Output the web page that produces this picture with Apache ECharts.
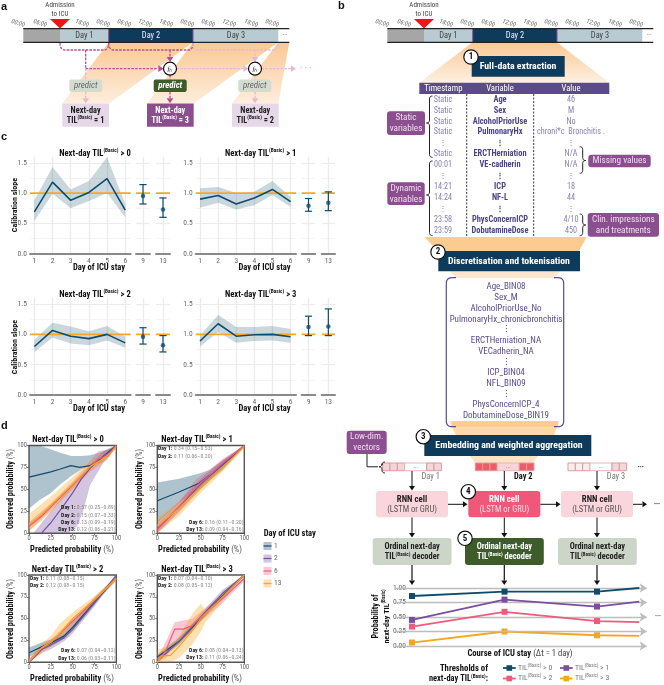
<!DOCTYPE html>
<html><head><meta charset="utf-8">
<style>html,body{margin:0;padding:0;background:#fff}#c{width:664px;height:685px}</style>
<script src="https://cdn.jsdelivr.net/npm/echarts@6/dist/echarts.min.js"></script>
</head><body><div id="c"></div>
<script>
/* ---------- DATA ---------- */
const slopeDays=[1,2,3,4,5,6];
const slope0=[0.69,1.18,0.88,1.01,1.24,0.72], slope0Up=[0.88,1.43,1.06,1.2,1.59,0.82], slope0Lo=[0.54,0.99,0.75,0.87,1.0,0.6];
const slope1=[0.9,0.96,0.82,0.92,1.06,0.86], slope1Up=[1.08,1.1,1.0,1.02,1.2,0.94], slope1Lo=[0.76,0.84,0.73,0.8,0.97,0.77];
const slope2=[0.8,1.065,0.97,0.93,1.0,0.86], slope2Up=[0.91,1.19,1.13,1.05,1.14,0.96], slope2Lo=[0.71,0.95,0.85,0.82,0.9,0.78];
const slope3=[0.89,1.175,0.97,0.995,1.0,0.96], slope3Up=[0.98,1.32,1.12,1.12,1.14,1.09], slope3Lo=[0.8,1.04,0.86,0.89,0.9,0.86];
const late0=[[9,0.95,0.82,1.14],[13,0.73,0.6,0.92]];
const late1=[[9,0.79,0.7,0.91],[13,0.84,0.71,1.02]];
const late2=[[9,0.96,0.84,1.11],[13,0.82,0.71,0.98]];
const late3=[[9,1.12,0.98,1.3],[13,1.13,0.98,1.42]];

const d0Day1=[[0,64],[25,70],[35,73],[48,77],[58,75],[70,77],[81,84],[89,91],[100,100]];
const d0Day1Band=[[0,28,100],[12,38,100],[24,45,96],[35,55,92],[48,65,88],[60,73,88],[70,77,89],[81,80,92],[90,88,96],[100,98,100]];
const d0Day2=[[14,0],[25,12],[40,32],[50,46],[60,62],[70,74],[81,85],[93,93],[100,100]];
const d0Day2Band=[[5,0,0],[25,0,25],[45,0,50],[55,8,60],[62,25,68],[70,55,78],[85,80,93],[100,98,100]];
const d0Day6=[[0,8],[15,20],[25,30],[50,55],[70,76],[80,85],[90,88],[100,100]];
const d0Day6Band=[[0,3,13],[25,26,34],[50,51,59],[70,71,82],[80,78,94],[90,84,95],[100,99,100]];
const d0Day13=[[0,10],[15,22],[25,32],[50,56],[70,76],[85,85],[95,93],[100,99]];
const d0Day13Band=[[0,2,22],[25,24,42],[50,50,64],[70,70,82],[85,80,90],[100,97,100]];

const d1Day1=[[0,37],[25,47],[48,57],[60,66],[75,78],[100,100]];
const d1Day1Band=[[0,12,58],[25,35,62],[48,50,68],[60,60,72],[75,72,83],[100,99,100]];
const d1Day2=[[0,5],[25,30],[50,56],[75,78],[100,100]];
const d1Day2Band=[[0,0,14],[25,24,36],[50,50,62],[75,74,83],[100,99,100]];
const d1Day6=[[0,4],[25,30],[45,54],[60,66],[75,80],[100,100]];
const d1Day6Band=[[0,0,10],[25,25,36],[45,47,62],[60,60,72],[75,76,85],[100,99,100]];
const d1Day13=[[0,9],[25,28],[50,52],[75,74],[100,99]];
const d1Day13Band=[[0,0,18],[25,20,36],[50,46,58],[75,70,79],[100,97,100]];

const d2Day1=[[0,11],[15,18],[25,22],[40,30],[50,40],[75,69],[100,97]];
const d2Day1Band=[[0,6,17],[15,14,23],[25,18,26],[40,27,35],[50,36,46],[75,66,74],[100,95,99]];
const d2Day2=[[0,0],[15,15],[25,20],[40,28],[50,38],[75,68],[100,100]];
const d2Day2Band=[[0,0,3],[15,11,18],[25,15,24],[40,24,32],[50,33,42],[75,64,71],[100,99,100]];
const d2Day6=[[0,1],[15,17],[25,23],[40,37],[50,47],[75,71],[100,96]];
const d2Day6Band=[[0,0,4],[15,14,20],[25,20,26],[40,34,40],[50,44,50],[75,68,74],[100,94,98]];
const d2Day13=[[0,1],[15,17],[25,23],[35,33],[50,50],[75,72],[100,96]];
const d2Day13Band=[[0,0,4],[15,10,22],[25,18,30],[35,26,44],[50,42,57],[75,68,76],[100,93,98]];

const d3Day1=[[0,6],[25,24],[50,50],[75,76],[100,100]];
const d3Day1Band=[[0,3,9],[25,21,28],[50,47,53],[75,73,79],[100,99,100]];
const d3Day2=[[0,1],[25,24],[50,52],[75,79],[100,100]];
const d3Day2Band=[[0,0,4],[25,20,28],[50,48,56],[75,75,83],[100,99,100]];
const d3Day6=[[0,0],[10,14],[20,38],[30,38],[40,42],[50,52],[75,73],[100,96]];
const d3Day6Band=[[0,0,5],[10,5,24],[20,25,46],[30,28,48],[40,34,50],[50,47,58],[75,68,78],[100,93,99]];
const d3Day13=[[0,0],[5,7],[15,8],[25,18],[40,36],[50,50],[75,75],[100,100]];
const d3Day13Band=[[0,0,14],[15,0,20],[25,5,30],[40,20,55],[50,35,67],[55,45,60],[75,70,79],[100,99,100]];

const calibDayNames=['1','2','6','13'];
const probX=[1,2,3,3.457];
const probGt0=[0.862,0.937,0.937,1.0], probGt1=[0.45,0.80,0.68,0.765], probGt2=[0.335,0.59,0.43,0.41], probGt3=[0.06,0.25,0.185,0.175];
const probLevels=[0,0.25,0.5,0.75,1];

const tableTime=['Static','Static','Static','Static','⋮','Static','00:01','⋮','14:21','14:24','⋮','23:58','23:59'];
const tableVar=['Age','Sex','AlcoholPriorUse','PulmonaryHx','⋮','ERCTHerniation','VE-cadherin','⋮','ICP','NF-L','⋮','PhysConcernICP','DobutamineDose'];
const tableVal=['46','M','No','chroni*c  Bronchitis .','⋮','N/A','N/A','⋮','18','44','⋮','4/10','450'];
const tokens=['Age_BIN08','Sex_M','AlcoholPriorUse_No','PulmonaryHx_chronicbronchitis','⋮','ERCTHerniation_NA','VECadherin_NA','⋮','ICP_BIN04','NFL_BIN09','⋮','PhysConcernICP_4','DobutamineDose_BIN19'];
const clockTicks=['00:00','06:00','18:00','00:00','06:00','12:00','18:00','00:00','06:00','12:00','18:00','00:00'];

const annot0=['0.57 (0.25–0.89)','0.15 (0.07–0.33)','0.13 (0.09–0.19)','0.12 (0.06–0.21)'];
const annot1=['0.34 (0.15–0.53)','0.11 (0.06–0.20)','0.16 (0.11–0.20)','0.09 (0.04–0.16)'];
const annot2=['0.11 (0.08–0.15)','0.12 (0.08–0.15)','0.07 (0.04–0.12)','0.06 (0.03–0.11)'];
const annot3=['0.07 (0.04–0.10)','0.08 (0.05–0.12)','0.08 (0.04–0.13)','0.11 (0.06–0.24)'];

/* ---------- STYLE ---------- */
const FONT='"Liberation Sans Narrow","Roboto Condensed",Roboto,sans-serif';
const NAVY='#0f4c6b',PURPLE='#7a4f9e',PINK='#ee5b7d',ORANGE='#f9a51a',DEEP='#0e3b5c',PLUM='#8b4f8f',IND='#5b4b8a',GREEN='#3e5c2a',SAGE='#ccd5c8';
const dayCol=[NAVY,PURPLE,PINK,ORANGE];
const els=[];

function T(x,y,text,o={}){
  const size=o.size||7;
  els.push({type:'text',x,y,rotation:o.rot||0,z:o.z||20,style:{text,fontFamily:o.font||FONT,fontSize:size,fontWeight:o.weight||'normal',fontStyle:o.italic?'italic':'normal',fill:o.color||'#333',align:o.align||'center',verticalAlign:'middle',lineHeight:o.lh||size*1.2,rich:o.rich}});
}
function tilRich(pre,post,o={}){
  const size=o.size||8,w=o.weight||'bold',c=o.color||'#111';
  return {text:'{a|'+pre+'}{s|(Basic)}{a|'+post+'}',rich:{
    a:{fontFamily:FONT,fontSize:size,fontWeight:w,fill:c,lineHeight:size*1.3},
    s:{fontFamily:FONT,fontSize:size*0.62,fontWeight:w,fill:c,verticalAlign:'top',lineHeight:size*1.3}}};
}
function TIL(x,y,pre,post,o={}){const r=tilRich(pre,post,o);T(x,y,r.text,{rich:r.rich,align:o.align,rot:o.rot,z:o.z,size:o.size});}
function rect(x,y,w,h,fill,r,stroke,z){els.push({type:'rect',z:z||10,shape:{x,y,width:w,height:h,r:r||0},style:{fill,stroke:stroke||null,lineWidth:stroke?1:0}});}
function poly(pts,fill,z){els.push({type:'polygon',z:z||5,shape:{points:pts},style:{fill}});}
function line(pts,color,w,dash,z){els.push({type:'polyline',z:z||12,shape:{points:pts},style:{stroke:color,lineWidth:w||1,fill:null,lineDash:dash||null}});}
function arrow(x1,y1,x2,y2,color,w,dash,h){
  h=h||3.4;const a=Math.atan2(y2-y1,x2-x1),bx=x2-h*1.5*Math.cos(a),by=y2-h*1.5*Math.sin(a);
  line([[x1,y1],[bx,by]],color,w,dash,13);
  poly([[x2,y2],[bx+h*Math.sin(a),by-h*Math.cos(a)],[bx-h*Math.sin(a),by+h*Math.cos(a)]],color,13);
}
function circ(x,y,r,label,o={}){
  els.push({type:'circle',z:15,shape:{cx:x,cy:y,r},style:{fill:'#fff',stroke:'#111',lineWidth:o.lw||1.2}});
  T(x,y,label,{size:o.size||9,weight:o.italic?'normal':'bold',italic:o.italic,color:'#111',z:16,font:o.font});
}
// rounded corner curves are sampled into polylines: the graphic component has no free path type
function curve(segs,color,w,dash){ // segs: start point, then [x,y] (line) or [cx,cy,x,y] (quadratic)
  const pts=[segs[0].slice()];
  segs.slice(1).forEach(s=>{
    if(s.length===2){pts.push(s.slice());return;}
    const p=pts[pts.length-1];
    for(let i=1;i<=6;i++){const t=i/6,u=1-t;pts.push([u*u*p[0]+2*u*t*s[0]+t*t*s[2],u*u*p[1]+2*u*t*s[1]+t*t*s[3]]);}
  });
  line(pts,color,w,dash);
}
function braceL(x,y1,y2,ym){const r=3;curve([[x+r,y1],[x,y1,x,y1+r],[x,ym-r],[x,ym,x-r,ym],[x,ym,x,ym+r],[x,y2-r],[x,y2,x+r,y2]],'#222',1);}
function braceR(x,y1,y2,ym){const r=3;curve([[x-r,y1],[x,y1,x,y1+r],[x,ym-r],[x,ym,x+r,ym],[x,ym,x,ym+r],[x,y2-r],[x,y2,x-r,y2]],'#222',1);}
const grad=(a,b)=>new echarts.graphic.LinearGradient(0,0,0,1,[{offset:0,color:a},{offset:1,color:b}]);

/* ---------- CHART ASSEMBLY ---------- */
const grids=[],xAxes=[],yAxes=[],series=[];
function addGrid(l,t,r,b,xa,ya,extra){
  const i=grids.length;
  grids.push(Object.assign({left:l,top:t,width:r-l,height:b-t,containLabel:false},extra||{}));
  xAxes.push(Object.assign({type:'value',gridIndex:i},xa));
  yAxes.push(Object.assign({type:'value',gridIndex:i},ya));
  return i;
}
function bandSeries(i,pts,fill,z){ // pts: [x,lo,hi]
  series.push({type:'custom',xAxisIndex:i,yAxisIndex:i,z,clip:true,silent:true,data:[pts[0]],encode:{x:0,y:1},
    renderItem:(p,api)=>{
      const top=pts.map(q=>api.coord([q[0],q[2]])),bot=pts.slice().reverse().map(q=>api.coord([q[0],q[1]]));
      return {type:'polygon',shape:{points:top.concat(bot)},style:{fill}};
    }});
}
function lineSeries(i,data,color,w,z){
  series.push({type:'line',xAxisIndex:i,yAxisIndex:i,data,z,silent:true,showSymbol:false,symbol:'none',clip:true,lineStyle:{color,width:w},animation:false});
}
const cLabel={color:'#666',fontSize:7.5,fontFamily:FONT,margin:3};
const gridLine={show:true,lineStyle:{color:'#ececec',width:1.4}};
function slopePanel(col,row,mid,up,lo,late){
  const X=[[[30,130.7],[136,150],[156,170]],[[195.7,296],[301.7,315.3],[321.7,335]]][col];
  const Y=[[156.7,253.7],[298,395]][row];
  const yTicks=[0,0.25,0.5,0.75,1,1.25,1.5];
  const xa=(mn,mx,vals)=>({min:mn,max:mx,axisLine:{show:true,onZero:false,lineStyle:{color:'#8a8a8a',width:2}},
    axisTick:{show:false,customValues:vals},axisLabel:{show:true,customValues:vals,...cLabel},splitLine:gridLine});
  const ya=(lab)=>({min:0,max:1.6,axisLine:{show:false},
    axisTick:{show:false,customValues:yTicks},
    axisLabel:{show:lab,customValues:[0,0.5,1,1.5],formatter:v=>v.toFixed(1),...cLabel},
    splitLine:{show:true,lineStyle:{color:['#ececec','#f4f4f4'],width:1.2}}});
  const a=addGrid(X[0][0],Y[0],X[0][1],Y[1],xa(0.76,6.3,slopeDays),ya(true));
  bandSeries(a,slopeDays.map((d,k)=>[d,lo[k],up[k]]),'rgba(15,76,107,0.22)',2);
  lineSeries(a,[[0.76,1],[6.3,1]],'#f7a823',1.6,3);
  lineSeries(a,slopeDays.map((d,k)=>[d,mid[k]]),NAVY,1.6,4);
  late.forEach((L,k)=>{
    const g=addGrid(X[k+1][0],Y[0],X[k+1][1],Y[1],xa(L[0]-1,L[0]+1,[L[0]]),ya(false));
    lineSeries(g,[[L[0]-1,1],[L[0]+1,1]],'#f7a823',1.6,3);
    series.push({type:'custom',xAxisIndex:g,yAxisIndex:g,z:4,silent:true,data:[[L[0],L[2],L[3]]],encode:{x:0,y:[1,2]},
      renderItem:(p,api)=>{
        const x=api.value(0),lw=api.coord([x,api.value(1)]),hi=api.coord([x,api.value(2)]),s={stroke:NAVY,lineWidth:1.2};
        return {type:'group',children:[
          {type:'line',shape:{x1:lw[0],y1:lw[1],x2:hi[0],y2:hi[1]},style:s},
          {type:'line',shape:{x1:lw[0]-3.6,y1:lw[1],x2:lw[0]+3.6,y2:lw[1]},style:s},
          {type:'line',shape:{x1:hi[0]-3.6,y1:hi[1],x2:hi[0]+3.6,y2:hi[1]},style:s}]};
      }});
    series.push({type:'scatter',xAxisIndex:g,yAxisIndex:g,z:5,silent:true,symbolSize:4.5,itemStyle:{color:NAVY},data:[[L[0],L[1]]]});
  });
}
slopePanel(0,0,slope0,slope0Up,slope0Lo,late0);
slopePanel(1,0,slope1,slope1Up,slope1Lo,late1);
slopePanel(0,1,slope2,slope2Up,slope2Lo,late2);
slopePanel(1,1,slope3,slope3Up,slope3Lo,late3);

function calibPanel(col,row,lines,bands){
  const X=[[29,116.3],[157.3,244.3]][col],Y=[[445.5,533.3],[575,662.3]][row];
  const lab={color:'#666',fontSize:6.5,fontFamily:FONT,margin:2};
  const tick={show:true,length:2,lineStyle:{color:'#555',width:0.8}};
  const g=addGrid(X[0],Y[0],X[1],Y[1],
    {min:0,max:100,interval:25,axisLine:{show:false},axisTick:tick,axisLabel:lab,splitLine:{show:false}},
    {min:0,max:100,interval:25,axisLine:{show:false},axisTick:tick,axisLabel:lab,splitLine:{show:false}},
    {show:true,borderColor:'#555',borderWidth:1.4,backgroundColor:'#fff'});
  bands.forEach((b,k)=>bandSeries(g,b,dayCol[k]+'55',2+k));
  lines.forEach((l,k)=>lineSeries(g,l,dayCol[k],1.2,8+k));
}
calibPanel(0,0,[d0Day1,d0Day2,d0Day6,d0Day13],[d0Day1Band,d0Day2Band,d0Day6Band,d0Day13Band]);
calibPanel(1,0,[d1Day1,d1Day2,d1Day6,d1Day13],[d1Day1Band,d1Day2Band,d1Day6Band,d1Day13Band]);
calibPanel(0,1,[d2Day1,d2Day2,d2Day6,d2Day13],[d2Day1Band,d2Day2Band,d2Day6Band,d2Day13Band]);
calibPanel(1,1,[d3Day1,d3Day2,d3Day6,d3Day13],[d3Day1Band,d3Day2Band,d3Day6Band,d3Day13Band]);

// probability strip (panel b bottom)
const pg=addGrid(395,588,646.7,646,
  {min:0.816,max:3.537,show:false,splitLine:{show:false}},
  {min:0,max:1,interval:0.25,axisLine:{show:false},axisTick:{show:false},splitLine:{show:false},
   axisLabel:{color:'#666',fontSize:7.5,fontFamily:FONT,formatter:v=>v.toFixed(2),align:'right',margin:-11}});
series.push({type:'line',xAxisIndex:pg,yAxisIndex:pg,z:1,silent:true,data:[],
  markLine:{silent:true,symbol:['none','arrow'],symbolSize:7,label:{show:false},lineStyle:{color:'#bdbdbd',type:'solid',width:1.4},
    data:probLevels.map(v=>[{coord:[0.816,v]},{coord:[3.537,v]}])}});
[[probGt3,ORANGE],[probGt2,PINK],[probGt1,PURPLE],[probGt0,NAVY]].forEach(([vals,c],k)=>{
  series.push({type:'line',xAxisIndex:pg,yAxisIndex:pg,z:4+k,silent:true,clip:false,
    data:probX.map((x,j)=>[x,vals[j]]),lineStyle:{color:c,width:1.8},itemStyle:{color:c},
    symbol:(v,p)=>p.dataIndex===3?'none':'rect',symbolSize:6,showSymbol:true,showAllSymbol:true});
});

/* ---------- PANEL LETTERS ---------- */
const LET={size:11,weight:'bold',color:'#111',font:'"Liberation Sans",sans-serif',align:'left'};
T(1,7,'a',LET);T(338,6,'b',LET);T(1,137,'c',LET);T(1,426,'d',LET);

/* ---------- TIMELINE ---------- */
function timeline(dx){
  rect(dx+23.3,28.7,36.7,13.6,'#a6a6a6');
  rect(dx+60,28.7,48.7,13.6,'#b9cbd2');
  rect(dx+108.7,28.7,84.3,13.6,DEEP);
  rect(dx+193,28.7,85.3,13.6,'#b9cbd2');
  line([[dx+108.7,28.7],[dx+108.7,42.3]],'#8b4f8f',1);
  line([[dx+193,28.7],[dx+193,42.3]],'#8b4f8f',1);
  line([[dx+23.3,28.7],[dx+289.3,28.7]],'#222',1.3);
  line([[dx+23.3,42.3],[dx+289.3,42.3]],'#222',1.3);
  T(dx+84.3,36,'Day 1',{size:8.4,color:'#444'});
  T(dx+151,36,'Day 2',{size:8.4,color:'#eef'});
  T(dx+236,36,'Day 3',{size:8.4,color:'#444'});
  T(dx+285,35.5,'···',{size:7,color:'#777'});
  poly([[dx+50,19],[dx+70,19],[dx+60,28.5]],'#f01414',14);
  T(dx+60,5.5,'Admission',{size:7,color:'#444'});
  T(dx+60,14,'to ICU',{size:7,color:'#444'});
  const tx=[18,40,82,103,124,145,166,187,208,229,251,272];
  clockTicks.forEach((t,i)=>T(dx+tx[i],23.3,t,{size:6.4,italic:true,color:'#666',rot:-0.3}));
}
timeline(0);timeline(364);

/* ---------- PANEL A ---------- */
const P1='#b8508f',P2='#e8b8d2',DASH=[2.6,1.2];
poly([[108.7,42.3],[193,42.3],[109,103.5],[62.3,103.5]],grad('#fbc893','#fdeedd'),3);
poly([[193,42.3],[278.3,42.3],[193.7,103.5],[147,103.5]],grad('#fbc893','#fdeedd'),3);
poly([[278.3,42.3],[289.3,42.3],[278.3,103.5],[232,103.5]],grad('#fbc893','#fdeedd'),3);
function bracket(a,b,c){curve([[a,43],[a,50,a+5,50],[b-5,50],[b,50,b,43]],c,1.3,DASH);}
bracket(60,108.7,P1);bracket(108.7,193,P1);bracket(193,278.3,P2);
line([[85.7,50],[85.7,68.7]],P1,1.3,DASH);arrow(85.7,68.7,163.5,68.7,P1,1.3,DASH);
line([[85.7,68.7],[85.7,79.5]],P2,1.3,DASH);arrow(85.7,92,85.7,103.3,P2,1.3,DASH);
arrow(170,50,170,62,P1,1.3,DASH);line([[170,75],[170,79.5]],P1,1.3,DASH);arrow(170,92,170,103.3,P1,1.3,DASH);
arrow(255,50,255,62,P2,1.3,DASH);line([[255,75],[255,79.5]],P2,1.3,DASH);arrow(255,92,255,103.3,P2,1.3,DASH);
arrow(176.5,68.7,248.5,68.7,P2,1.3,DASH);arrow(261.5,68.7,296,68.7,P2,1.3,DASH);
T(306,68.7,'· · ·',{size:9,weight:'bold',color:P2});
circ(170,68.7,6.5,'fₕ',{size:7,italic:true,font:'"Liberation Serif",serif'});
circ(255,68.7,6.5,'fₕ',{size:7,italic:true,font:'"Liberation Serif",serif'});
[[69.3,'#d5dccf','#666',false],[153.7,GREEN,'#fff',true],[238.3,'#d5dccf','#666',false]].forEach(([x,f,c,b])=>{
  rect(x,79.5,33,12.5,f,2);T(x+16.5,85.7,'predict',{size:8.8,italic:true,color:c,weight:b?'bold':'normal'});
});
[[62.3,'#e6d8e8','#222','1'],[147,PLUM,'#fff','3'],[232,'#e6d8e8','#222','2']].forEach(([x,f,c,v])=>{
  rect(x,103.5,46.7,23.3,f);
  T(x+23.3,111,'Next-day',{size:8.3,weight:'bold',color:c});
  TIL(x+23.3,120.5,'TIL',' = '+v,{size:8.3,color:c});
});

/* ---------- PANEL B : table ---------- */
poly([[472.7,42.3],[556.7,42.3],[609.3,82.7],[419.3,82.7]],grad('#fbc893','#fdf0e2'),3);
rect(471.7,56,93,20.7,DEEP,0,null,10);
T(518,66.3,'Full-data extraction',{size:9.8,weight:'bold',color:'#fff'});
circ(471,57,7.2,'1');
rect(419.3,82.7,190,11.3,IND);
T(443.3,88.5,'Timestamp',{size:8.6,color:'#fff'});T(500,88.5,'Variable',{size:8.6,color:'#fff'});T(571,88.5,'Value',{size:8.6,color:'#fff'});
const rowY=[99.5,110.5,121.5,132.3,143.3,154,165,176,187,198,209,220,230.7];
rowY.forEach((y,i)=>{
  T(443,y,tableTime[i],{size:8.2,color:'#8a82b0'});
  T(500,y,tableVar[i],{size:8.4,color:'#4c4485',weight:'bold'});
  T(571,y,tableVal[i],{size:8.2,color:'#8a82b0'});
});
line([[466.7,94],[466.7,236]],'#222',0.9,[2,1.5]);
line([[533.7,94],[533.7,236]],'#222',0.9,[2,1.5]);
braceL(429.5,96,157.3,123);braceL(429.5,161,235.5,195);
braceR(582.7,146.7,173.3,160.5);braceR(582.7,214,235.7,225);
const BOXT={size:9.2,color:'#ecdcec'};
rect(387,111.3,38,23.7,PLUM,3);T(406,117.5,'Static',BOXT);T(406,128.5,'variables',BOXT);
rect(387.3,182.3,37.4,22.7,PLUM,3);T(406,188.5,'Dynamic',BOXT);T(406,199.5,'variables',BOXT);
rect(588.3,154.7,62.4,12.6,PLUM,3);T(619.5,161,'Missing values',BOXT);
rect(587.7,213,71.3,23.7,PLUM,3);T(623.3,219.3,'Clin. impressions',BOXT);T(623.3,230.3,'and treatments',BOXT);

/* discretisation */
poly([[424.3,237],[586.7,237],[579,251],[438,251]],'#fbcb90',3);
rect(438.3,251,141.7,20.3,DEEP);
T(509,261.3,'Discretisation and tokenisation',{size:9.8,weight:'bold',color:'#fff'});
circ(438,252,7.2,'2');
poly([[450,271.3],[560,271.3],[554,278],[456,278]],'#fde6cd',3);
poly([[449,421.3],[559,421.3],[554,435],[456,435]],'#fdd9ad',3);
rect(452,421.3,106,5.4,'#fbcb90',0,null,4);
curve([[456,277.7],[452,277.7],[446.3,277.7,446.3,283.5],[446.3,421],[446.3,426.7,452,426.7],[456,426.7]],IND,1.2);
curve([[554,277.7],[558,277.7],[563.7,277.7,563.7,283.5],[563.7,421],[563.7,426.7,558,426.7],[554,426.7]],IND,1.2);
const tokY=[287,298,308.7,319.3,330,341,351.7,362.3,373,383.3,394.3,405,415.7];
tokens.forEach((t,i)=>T(506,tokY[i],t,{size:9,color:'#5b4b8a'}));

/* embedding */
rect(424.3,435,167,21,DEEP);
T(509,446,'Embedding and weighted aggregation',{size:9.8,weight:'bold',color:'#fff'});
circ(423.3,436.7,7.2,'3');
poly([[470,456],[538,456],[533,463],[475,463]],'#fde3c4',3);
rect(346.7,430.7,40,23.3,PLUM,3);T(366.7,437,'Low-dim.',BOXT);T(366.7,448,'vectors',BOXT);
line([[367,454],[367,466.8],[378,466.8]],'#222',1);
braceL(382,462,473,466.8);
function vec(x,a,b,mid){
  const w=7.33,y=463,h=7.7;
  [0,1,2].forEach(i=>rect(x+i*w,y,w,h,a,0,'#d99aa2'));
  rect(x+3*w,y,22,h,mid,0,'#e5b5bb');T(x+3*w+11,y+3,'...',{size:6,color:'#555'});
  [0,1].forEach(i=>rect(x+3*w+22+i*w,y,w,h,b,0,'#d99aa2'));
}
vec(382.7,'#f6d5d8','#f6d5d8','#fff');vec(475.3,'#ee5d66','#ee5d66','#fbd5d8');vec(568,'#fdeeee','#f9d5d9','#fff');
T(640.7,467,'•••',{size:6,color:'#222'});
T(430.7,476.7,'Day 1',{size:8.4,color:'#777'});T(523.3,476.7,'Day 2',{size:8.4,weight:'bold',color:'#111'});T(616,476.7,'Day 3',{size:8.4,color:'#777'});
[412,504.3,597].forEach(x=>arrow(x,471,x,490.5,'#111',1,null,3));
[[376,'#fbd5dc','#222','#555'],[468.3,'#f0587a','#fff','#fbdbe3'],[561,'#fbd5dc','#222','#555']].forEach(([x,f,c,c2])=>{
  rect(x,491,72,26.3,f,3);T(x+36,499.7,'RNN cell',{size:8.8,weight:'bold',color:c});T(x+36,509.7,'(LSTM or GRU)',{size:8.5,color:c2});
});
arrow(448,504.3,467.5,504.3,'#111',1,null,3);arrow(540.3,504.3,560.5,504.3,'#111',1,null,3);arrow(633,504.3,647,504.3,'#111',1,null,3);
T(657,504.3,'•••',{size:6,color:'#222'});
circ(468.3,491.7,7.2,'4');circ(465,538.3,7.2,'5');
[412,504.3,597].forEach(x=>arrow(x,517.5,x,537.5,'#111',1,null,3));
[[372.7,SAGE,'#222'],[465,GREEN,'#fff'],[558,SAGE,'#222']].forEach(([x,f,c])=>{
  rect(x,538,78.8,27,f,3);
  T(x+39.4,546.7,'Ordinal next-day',{size:8.4,weight:'bold',color:c});
  TIL(x+39.4,557.3,'TIL',' decoder',{size:8.4,color:c});
});
[412,504.3,597].forEach(x=>arrow(x,565,x,585,'#111',1.2,null,3));
T(658,616.5,'•••',{size:6,color:'#666'});
T(376,616.5,'Probability of',{size:8.2,weight:'bold',rot:Math.PI/2,color:'#111'});
TIL(386.5,616.5,'next-day TIL','',{size:8,rot:Math.PI/2});
{const r={a:{fontFamily:FONT,fontSize:8.6,fontWeight:'bold',fill:'#111'},b:{fontFamily:FONT,fontSize:8.6,fill:'#444'}};
 T(520,654.3,'{a|Course of ICU stay} {b|(Δt = 1 day)}',{rich:r,size:8.6});}
T(488,669,'Thresholds of',{size:8.7,weight:'bold',align:'right',color:'#111'});
TIL(488,679.3,'next-day TIL',':',{size:8.4,align:'right'});
[[503,668,NAVY,'> 0'],[560,668,PURPLE,'> 1'],[503,678.5,PINK,'> 2'],[560,678.5,ORANGE,'> 3']].forEach(([x,y,c,v])=>{
  line([[x,y],[x+12.7,y]],c,1.8);rect(x+3.5,y-2.8,5.6,5.6,c,0,null,13);
  TIL(x+15,y,'TIL',' '+v,{size:7.8,weight:'normal',color:'#777',align:'left'});
});

/* ---------- PANEL C TEXT ---------- */
[[95,154,'> 0'],[260.7,154,'> 1'],[95,295,'> 2'],[260.7,295,'> 3']].forEach(([x,y,v])=>TIL(x,y,'Next-day TIL',' '+v,{size:8.6}));
[205,347].forEach(y=>T(15,y,'Calibration slope',{size:8,weight:'bold',rot:Math.PI/2,color:'#111'}));
[[99,267.7],[264.5,267.7],[99,408.5],[264.5,408.5]].forEach(([x,y])=>T(x,y,'Day of ICU stay',{size:8.6,weight:'bold',color:'#111'}));

/* ---------- PANEL D TEXT ---------- */
[[68,440,'> 0'],[197,440,'> 1'],[67.5,569.5,'> 2'],[197,569.5,'> 3']].forEach(([x,y,v])=>TIL(x,y,'Next-day TIL',' '+v,{size:8.6}));
const pr={a:{fontFamily:FONT,fontSize:8.5,fontWeight:'bold',fill:'#111'},b:{fontFamily:FONT,fontSize:8.5,fill:'#555'}};
[[72,549.5],[200,549.5],[72,679],[200,679]].forEach(([x,y])=>T(x,y,'{a|Predicted probability} {b|(%)}',{rich:pr,size:8.5}));
const pr2={a:{fontFamily:FONT,fontSize:8.2,fontWeight:'bold',fill:'#111'},b:{fontFamily:FONT,fontSize:8.2,fill:'#555'}};
[[10.7,489],[140,489],[10.7,619],[140,619]].forEach(([x,y])=>T(x,y,'{a|Observed probability} {b|(%)}',{rich:pr2,size:8.2,rot:Math.PI/2}));
const ar={a:{fontFamily:FONT,fontSize:5.8,fontWeight:'bold',fill:'#222'},b:{fontFamily:FONT,fontSize:5.8,fill:'#888'}};
function ann(x,y,d,v,align){T(x,y,'{a|Day '+d+':} {b|'+v+'}',{rich:ar,size:5.8,align,z:25});}
const days=calibDayNames;
[0,1,2,3].forEach(k=>ann(115.5,[507.7,515.2,522.7,530][k],days[k],annot0[k],'right'));
ann(158,449,days[0],annot1[0],'left');ann(158,456.7,days[1],annot1[1],'left');
ann(243.5,522.3,days[2],annot1[2],'right');ann(243.5,529.8,days[3],annot1[3],'right');
ann(30,578.3,days[0],annot2[0],'left');ann(30,585.8,days[1],annot2[1],'left');
ann(115.5,650.3,days[2],annot2[2],'right');ann(115.5,658.2,days[3],annot2[3],'right');
ann(158,578.3,days[0],annot3[0],'left');ann(158,585.8,days[1],annot3[1],'left');
ann(243.5,650.5,days[2],annot3[2],'right');ann(243.5,658,days[3],annot3[3],'right');
T(263.7,534,'Day of ICU stay',{size:8.6,weight:'bold',align:'left',color:'#111'});
calibDayNames.forEach((d,k)=>{
  const y=546+k*12.5;
  rect(263.5,y-4,8,8,dayCol[k]+'55');
  line([[263.5,y],[271.5,y]],dayCol[k],1.2);
  T(274,y,d,{size:7.5,color:'#666',align:'left'});
});

/* ---------- RENDER ---------- */
const chart=echarts.init(document.getElementById('c'),null,{renderer:'canvas',width:664,height:685});
chart.setOption({animation:false,backgroundColor:'#fff',textStyle:{fontFamily:FONT},
  grid:grids,xAxis:xAxes,yAxis:yAxes,series,graphic:{elements:els}});
</script></body></html>
